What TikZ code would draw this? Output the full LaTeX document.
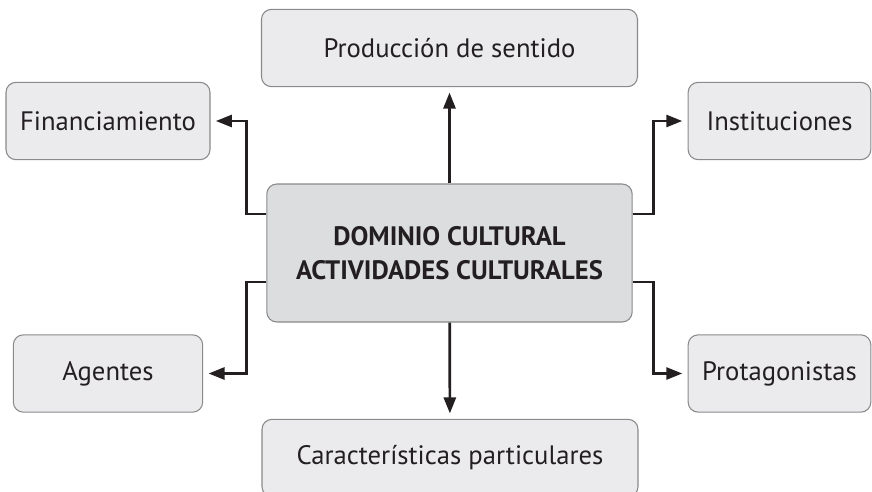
\documentclass[tikz,border=0pt]{standalone}
\usepackage{fontspec}
\setmainfont{PT Sans}
\usepackage{xcolor}
\usepackage{tikz}
\usetikzlibrary{arrows.meta}

\definecolor{boxfill}{HTML}{EBEBED}
\definecolor{mainfill}{HTML}{DCDDDF}
\definecolor{boxline}{HTML}{8A8A8A}
\definecolor{ink}{HTML}{231F20}

\begin{document}
\begin{tikzpicture}[x=0.75pt,y=-0.75pt,
    item/.style={draw=boxline,line width=0.8pt,fill=boxfill,rounded corners=7.5pt,
      inner sep=0pt,minimum height=58pt,text=ink,font=\fontsize{20}{24}\selectfont},
    mainbox/.style={item,fill=mainfill,minimum width=274pt,minimum height=103.5pt,
      align=center,font=\fontsize{20}{25}\selectfont\bfseries},
    link/.style={draw=ink,line width=2pt,-{Triangle[length=12pt,width=9pt]},shorten >=4pt}]
  \useasboundingbox (0,0) rectangle (872,492);
  \node [mainbox] (dom) at (449.5,253) {DOMINIO CULTURAL\\ACTIVIDADES CULTURALES};
  \node [item,minimum width=282pt] (prod) at (449.5,48) {Producción de sentido};
  \node [item,minimum width=282pt] (carac) at (450,458) {Características particulares};
  \node [item,minimum width=153pt] (fin) at (108,121) {Financiamiento};
  \node [item,minimum width=137pt] (inst) at (779.5,121) {Instituciones};
  \node [item,minimum width=142pt] (agen) at (108,373.5) {Agentes};
  \node [item,minimum width=137pt] (prot) at (779.5,373.5) {Protagonistas};
  % connectors
  \draw [link] (dom) -- (prod);
  \draw [link] (dom) -- (carac);
  \draw [link] ([yshift=29.25pt]dom.west) -- ++(-20,0) |- (fin.east);
  \draw [link] ([yshift=29.25pt]dom.east) -- ++(21,0) |- (inst.west);
  \draw [link] ([yshift=-21.75pt]dom.west) -- ++(-20,0) |- (agen.east);
  \draw [link] ([yshift=-21.75pt]dom.east) -- ++(21,0) |- (prot.west);
\end{tikzpicture}
\end{document}
